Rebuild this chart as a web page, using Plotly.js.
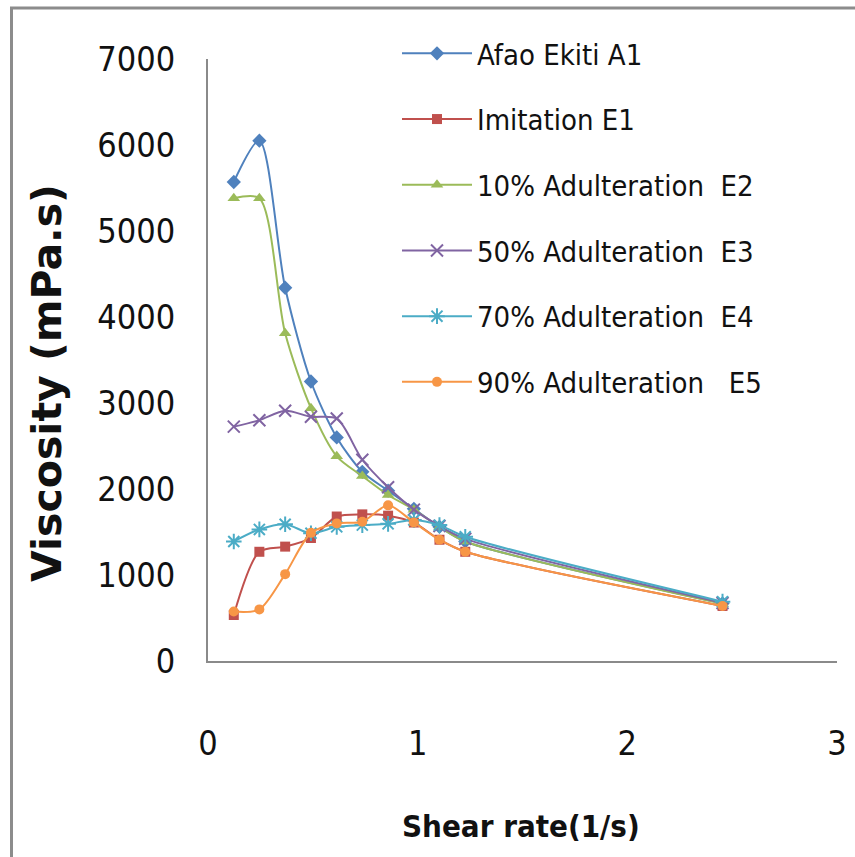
<!DOCTYPE html>
<html>
<head>
<meta charset="utf-8">
<script src="https://cdn.plot.ly/plotly-3.0.1.min.js"></script>
<style>
  html, body { margin: 0; padding: 0; background: #fff; }
  #chart { width: 855px; height: 857px; }
</style>
</head>
<body>
<div id="chart"></div>
<script>
// Shear rate (1/s)
const shearRate = [0.123, 0.245, 0.368, 0.491, 0.614, 0.736, 0.859, 0.982, 1.104, 1.227, 2.454];

// Viscosity (mPa.s)
const afaoEkitiA1     = [5570, 6050, 4340, 3250, 2600, 2200, 1980, 1770, 1560, 1390, 670];
const imitationE1     = [535, 1270, 1330, 1430, 1680, 1705, 1690, 1610, 1410, 1270, 640];
const adulteration10  = [5380, 5380, 3810, 2940, 2380, 2150, 1930, 1760, 1560, 1390, 665];
const adulteration50  = [2725, 2800, 2910, 2840, 2820, 2340, 2020, 1760, 1570, 1420, 675];
const adulteration70  = [1390, 1530, 1590, 1485, 1560, 1580, 1595, 1640, 1580, 1445, 690];
const adulteration90  = [575, 600, 1010, 1490, 1600, 1620, 1810, 1610, 1410, 1270, 640];

const seriesNames = [
  "Afao Ekiti A1",
  "Imitation E1",
  "10% Adulteration  E2",
  "50% Adulteration  E3",
  "70% Adulteration  E4",
  "90% Adulteration   E5"
];
const seriesValues = [afaoEkitiA1, imitationE1, adulteration10, adulteration50, adulteration70, adulteration90];
const seriesColors = ["#4F81BD", "#C0504D", "#9BBB59", "#8064A2", "#4BACC6", "#F79646"];
const seriesSymbols = ["diamond", "square", "triangle-up", "x-thin-open", "asterisk-open", "circle"];
const seriesSizes = [11, 10, 11, 12, 13, 10];

const yTicks = [0, 1000, 2000, 3000, 4000, 5000, 6000, 7000];
const xTicks = [0, 1, 2, 3];

const traces = seriesNames.map((name, i) => ({
  type: "scatter",
  mode: "lines+markers",
  name: name,
  legendgroup: "g" + i,
  x: shearRate,
  y: seriesValues[i],
  line: { color: seriesColors[i], width: 2, shape: "spline", smoothing: 0.8 },
  marker: {
    symbol: seriesSymbols[i],
    size: seriesSizes[i],
    color: seriesColors[i],
    line: { color: seriesColors[i], width: seriesSymbols[i].endsWith("open") ? 2 : 0 }
  }
}));

const L = 208, R = 837, T = 59, B = 661;
const px = v => (v - L) / (R - L);
const py = v => (B - v) / (B - T);
const narrow = "DejaVu Sans Condensed, Liberation Sans Narrow, sans-serif";

const layout = {
  width: 855,
  height: 857,
  margin: { l: L, r: 855 - R, t: T, b: 857 - B, pad: 0 },
  paper_bgcolor: "#ffffff",
  plot_bgcolor: "#ffffff",
  showlegend: true,
  legend: {
    x: px(397),
    y: py(28),
    xanchor: "left",
    yanchor: "top",
    bgcolor: "rgba(0,0,0,0)",
    borderwidth: 0,
    traceorder: "grouped",
    tracegroupgap: 25,
    itemwidth: 70,
    font: { family: narrow, size: 29, color: "#111111" }
  },
  xaxis: {
    range: [0, 3],
    tickvals: xTicks,
    ticktext: xTicks.map(String),
    showgrid: false,
    zeroline: false,
    showline: true,
    linecolor: "#8a8a8a",
    linewidth: 2,
    ticks: "",
    ticklabelstandoff: 51,
    tickfont: { family: narrow, size: 34, color: "#111111" },
    fixedrange: true
  },
  yaxis: {
    range: [0, 7000],
    tickvals: yTicks,
    ticktext: yTicks.map(String),
    showgrid: false,
    zeroline: false,
    showline: true,
    linecolor: "#8a8a8a",
    linewidth: 2,
    ticks: "",
    ticklabelstandoff: 24,
    tickfont: { family: narrow, size: 34, color: "#111111" },
    fixedrange: true
  },
  annotations: [
    {
      xref: "paper", yref: "paper",
      x: px(521), y: py(826),
      xanchor: "center", yanchor: "middle",
      showarrow: false,
      text: "<b>Shear rate(1/s)</b>",
      font: { family: narrow, size: 31, color: "#111111" }
    },
    {
      xref: "paper", yref: "paper",
      x: px(47), y: py(383),
      xanchor: "center", yanchor: "middle",
      showarrow: false,
      textangle: -90,
      text: "<b>Viscosity (mPa.s)</b>",
      font: { family: "DejaVu Sans, sans-serif", size: 41, color: "#111111" }
    }
  ],
  shapes: [
    { type: "line", xref: "paper", yref: "paper", x0: px(11.5), x1: px(11.5), y0: py(7), y1: py(857),
      line: { color: "#8c8c8c", width: 3 } },
    { type: "line", xref: "paper", yref: "paper", x0: px(10), x1: px(855), y0: py(8), y1: py(8),
      line: { color: "#8c8c8c", width: 3 } }
  ]
};

Plotly.newPlot("chart", traces, layout, { staticPlot: true, displayModeBar: false });
</script>
</body>
</html>
